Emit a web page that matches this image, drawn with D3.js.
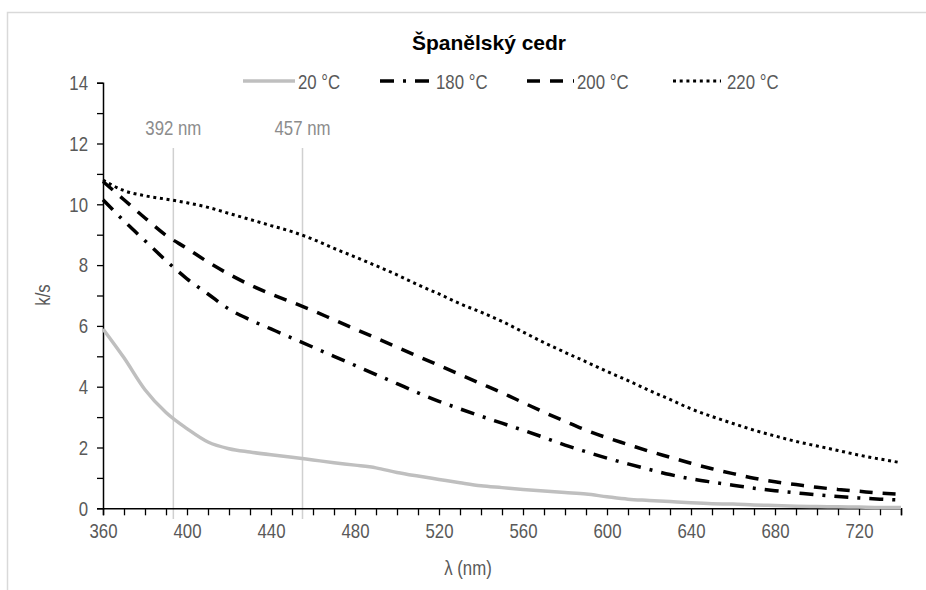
<!DOCTYPE html>
<html>
<head>
<meta charset="utf-8">
<script src="https://cdn.jsdelivr.net/npm/d3@7"></script>
<style>
  html, body { margin: 0; padding: 0; background: #fff; }
  svg { display: block; }
  .narrow { font-family: "Liberation Sans", Arial, sans-serif; }
</style>
</head>
<body>
<svg id="chart" width="926" height="590"></svg>
<script>
// wavelengths (nm)
const wavelengths = [360, 370, 380, 390, 400, 410, 420, 430, 440, 450, 460, 470, 480, 490, 500,
  510, 520, 530, 540, 550, 560, 570, 580, 590, 600, 610, 620, 630, 640, 650,
  660, 670, 680, 690, 700, 710, 720, 730, 740];

// k/s values per temperature
const ks20 = [5.9, 4.95, 3.9, 3.15, 2.62, 2.18, 1.96, 1.85, 1.76, 1.68, 1.59, 1.5, 1.42, 1.33, 1.18,
  1.06, 0.95, 0.84, 0.74, 0.68, 0.62, 0.57, 0.52, 0.47, 0.38, 0.3, 0.26, 0.22, 0.18, 0.15,
  0.14, 0.11, 0.09, 0.07, 0.06, 0.05, 0.04, 0.03, 0.03];
const ks180 = [10.15, 9.45, 8.8, 8.15, 7.55, 7.05, 6.55, 6.2, 5.9, 5.6, 5.3, 5.0, 4.7, 4.4, 4.1,
  3.8, 3.52, 3.27, 3.03, 2.8, 2.57, 2.33, 2.08, 1.86, 1.65, 1.46, 1.28, 1.11, 0.97, 0.86,
  0.76, 0.66, 0.58, 0.51, 0.44, 0.39, 0.34, 0.3, 0.27];
const ks200 = [10.75, 10.15, 9.55, 8.98, 8.55, 8.1, 7.7, 7.35, 7.05, 6.78, 6.5, 6.2, 5.9, 5.6, 5.3,
  5.0, 4.7, 4.4, 4.1, 3.8, 3.48, 3.16, 2.86, 2.57, 2.32, 2.1, 1.88, 1.68, 1.48, 1.3,
  1.14, 0.99, 0.87, 0.78, 0.69, 0.62, 0.56, 0.5, 0.46];
const ks220 = [10.8, 10.45, 10.28, 10.17, 10.05, 9.9, 9.7, 9.5, 9.3, 9.1, 8.85, 8.55, 8.27, 7.98, 7.68,
  7.35, 7.05, 6.73, 6.45, 6.15, 5.8, 5.45, 5.13, 4.82, 4.5, 4.2, 3.88, 3.58, 3.27, 3.02,
  2.79, 2.57, 2.38, 2.2, 2.05, 1.9, 1.75, 1.62, 1.5];

const seriesNames = ['20 °C', '180 °C', '200 °C', '220 °C'];

// marked wavelengths (where the guide lines sit) and their labels
const markerPos = [393.5, 455];
const markerLabels = ['392 nm', '457 nm'];

const xTickLabels = [360, 400, 440, 480, 520, 560, 600, 640, 680, 720];
const yTickLabels = [0, 2, 4, 6, 8, 10, 12, 14];

// line styles per series
const styles = [
  { color: '#bfbfbf', width: 3.5, dash: null },
  { color: '#000', width: 3.5, dash: '14,9,3,9' },
  { color: '#000', width: 3.5, dash: '13,10' },
  { color: '#000', width: 3, dash: '3,3.7' }
];

const FONT_SIZE = 21;
const SQUEEZE = 0.8; // no narrow font installed, so squeeze glyphs horizontally

function condense(sel) {
  sel.each(function () {
    const w = this.getComputedTextLength();
    d3.select(this)
      .attr('textLength', w * SQUEEZE)
      .attr('lengthAdjust', 'spacingAndGlyphs');
  });
}

const svg = d3.select('#chart');
const plot = { left: 103, right: 901, top: 82.7, bottom: 508.3 };

// outer frame
svg.append('rect')
  .attr('x', 7.5).attr('y', 12.5)
  .attr('width', 1000).attr('height', 1000)
  .attr('fill', 'none')
  .attr('stroke', '#d9d9d9')
  .attr('stroke-width', 1.5);

const x = d3.scaleLinear().domain([360, 740]).range([plot.left, plot.right]);
const y = d3.scaleLinear().domain([0, 14]).range([plot.bottom, plot.top]);

// title
svg.append('text')
  .attr('x', 489).attr('y', 50)
  .attr('text-anchor', 'middle')
  .attr('font-family', '"Liberation Sans", Arial, sans-serif')
  .attr('font-weight', 'bold')
  .attr('font-size', 21)
  .attr('fill', '#000')
  .text('Španělský cedr');

// guide lines
const guides = svg.append('g');
guides.selectAll('line')
  .data(markerPos)
  .join('line')
  .attr('x1', d => x(d)).attr('x2', d => x(d))
  .attr('y1', 148).attr('y2', 519)
  .attr('stroke', '#d0d0d0')
  .attr('stroke-width', 1.5);
guides.selectAll('text')
  .data(markerPos)
  .join('text')
  .attr('class', 'narrow')
  .attr('x', d => x(d))
  .attr('y', 135)
  .attr('text-anchor', 'middle')
  .attr('font-size', FONT_SIZE)
  .attr('fill', '#8c8c8c')
  .text((d, i) => markerLabels[i])
  .call(condense);

// y axis
const yAxis = svg.append('g')
  .attr('transform', `translate(${plot.left},0)`)
  .call(d3.axisLeft(y).tickValues(d3.range(0, 15, 1)).tickSize(6)
    .tickFormat(d => yTickLabels.includes(d) ? d : ''));
yAxis.select('.domain').attr('stroke', '#000').attr('stroke-width', 1.5);
yAxis.selectAll('.tick line').attr('stroke', '#000').attr('stroke-width', 1.3);
yAxis.selectAll('.tick text')
  .attr('class', 'narrow')
  .attr('x', -15)
  .attr('font-size', FONT_SIZE)
  .attr('fill', '#595959')
  .call(condense);

// x axis
const xAxis = svg.append('g')
  .attr('transform', `translate(0,${plot.bottom})`)
  .call(d3.axisBottom(x).tickValues(wavelengths).tickSize(7)
    .tickFormat(d => xTickLabels.includes(d) ? d : ''));
xAxis.select('.domain').attr('stroke', '#000').attr('stroke-width', 1.5);
xAxis.selectAll('.tick line').attr('stroke', '#000').attr('stroke-width', 1.3);
xAxis.selectAll('.tick text')
  .attr('class', 'narrow')
  .attr('y', 15)
  .attr('font-size', FONT_SIZE)
  .attr('fill', '#595959')
  .call(condense);

// axis titles
svg.append('text')
  .attr('class', 'narrow')
  .attr('transform', 'translate(50,295) rotate(-90)')
  .attr('text-anchor', 'middle')
  .attr('font-size', FONT_SIZE)
  .attr('fill', '#595959')
  .text('k/s')
  .call(condense);
svg.append('text')
  .attr('class', 'narrow')
  .attr('x', 468).attr('y', 575)
  .attr('text-anchor', 'middle')
  .attr('font-size', FONT_SIZE)
  .attr('fill', '#595959')
  .text('λ (nm)')
  .call(condense);

// series
const allSeries = [ks20, ks180, ks200, ks220];
const line = d3.line()
  .x((d, i) => x(wavelengths[i]))
  .y(d => y(d))
  .curve(d3.curveMonotoneX);

svg.append('g')
  .selectAll('path')
  .data(allSeries.map((vals, i) => ({ vals, style: styles[i] })).reverse())
  .join('path')
  .attr('d', d => line(d.vals))
  .attr('fill', 'none')
  .attr('stroke', d => d.style.color)
  .attr('stroke-width', d => d.style.width)
  .attr('stroke-dasharray', d => d.style.dash)
  .attr('stroke-linejoin', 'round');

// legend
const legendItems = [
  { x0: 243, x1: 295, tx: 298 },
  { x0: 380, x1: 432, tx: 436 },
  { x0: 527, x1: 574, tx: 577 },
  { x0: 673, x1: 721, tx: 727 }
];
const legend = svg.append('g');
legend.selectAll('line')
  .data(seriesNames)
  .join('line')
  .attr('x1', (d, i) => legendItems[i].x0)
  .attr('x2', (d, i) => legendItems[i].x1)
  .attr('y1', 81).attr('y2', 81)
  .attr('stroke', (d, i) => styles[i].color)
  .attr('stroke-width', (d, i) => styles[i].width)
  .attr('stroke-dasharray', (d, i) => styles[i].dash);
legend.selectAll('text')
  .data(seriesNames)
  .join('text')
  .attr('class', 'narrow')
  .attr('x', (d, i) => legendItems[i].tx)
  .attr('y', 89)
  .attr('font-size', FONT_SIZE)
  .attr('fill', '#595959')
  .text(d => d)
  .call(condense);
</script>
</body>
</html>
